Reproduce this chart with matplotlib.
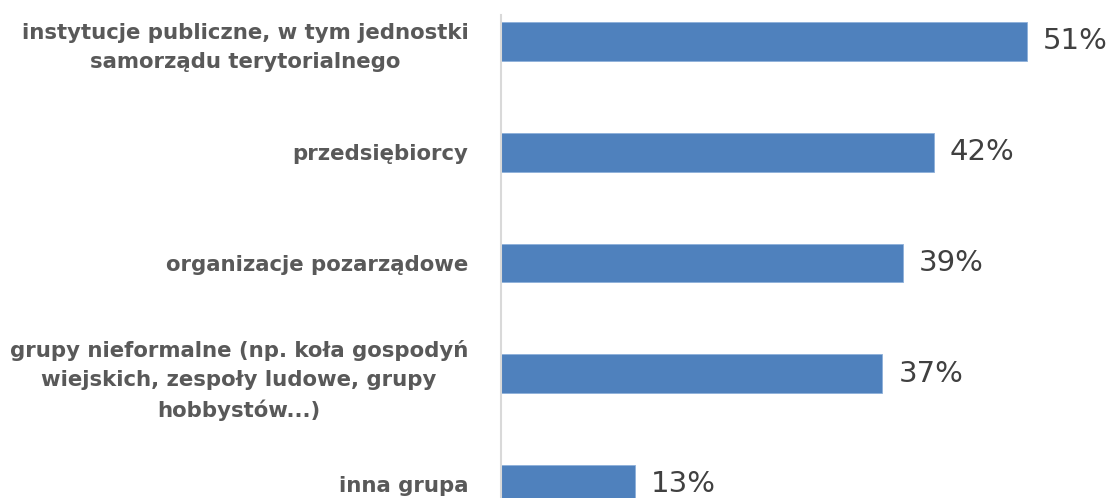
import matplotlib
matplotlib.use("Agg")
import matplotlib.pyplot as plt

categories = [
    "instytucje publiczne, w tym jednostki\nsamorządu terytorialnego",
    "przedsiębiorcy",
    "organizacje pozarządowe",
    "grupy nieformalne (np. koła gospodyń\nwiejskich, zespoły ludowe, grupy\nhobbystów...)",
    "inna grupa",
]
values = [51, 42, 39, 37, 13]
value_labels = ["51%", "42%", "39%", "37%", "13%"]

W, H = 1112, 498
fig = plt.figure(figsize=(W / 100, H / 100), dpi=100)
fig.patch.set_facecolor("white")

ax = fig.add_axes([501 / W, 0, 611 / W, (H - 15) / H])
pos = list(range(len(categories)))
ax.barh(pos, values, height=0.352, color="#4F81BD", edgecolor="#8DB0DA", linewidth=0.6)

ax.set_xlim(0, 611 / 10.31)
ax.set_ylim((H - 41.5) / 110.75, (15 - 41.5) / 110.75)

for s in ["top", "right", "bottom"]:
    ax.spines[s].set_visible(False)
ax.spines["left"].set_color("#D9D9D9")
ax.spines["left"].set_linewidth(1.5)
ax.set_xticks([])
ax.set_yticks(pos)
ax.set_yticklabels(categories)
ax.tick_params(axis="y", length=0, pad=23.5)
for t in ax.get_yticklabels():
    t.set_family("DejaVu Sans")
    t.set_fontweight("bold")
    t.set_fontsize(15.3)
    t.set_color("#595959")
    t.set_multialignment("center")
    t.set_linespacing(1.55)

for p, v, lab in zip(pos, values, value_labels):
    ax.annotate(lab, xy=(v, p), xytext=(11.5, 0), textcoords="offset points",
                ha="left", va="center", fontsize=21, color="#404040",
                family="DejaVu Sans", annotation_clip=False)

fig.savefig("out.png", dpi=100, facecolor="white")
